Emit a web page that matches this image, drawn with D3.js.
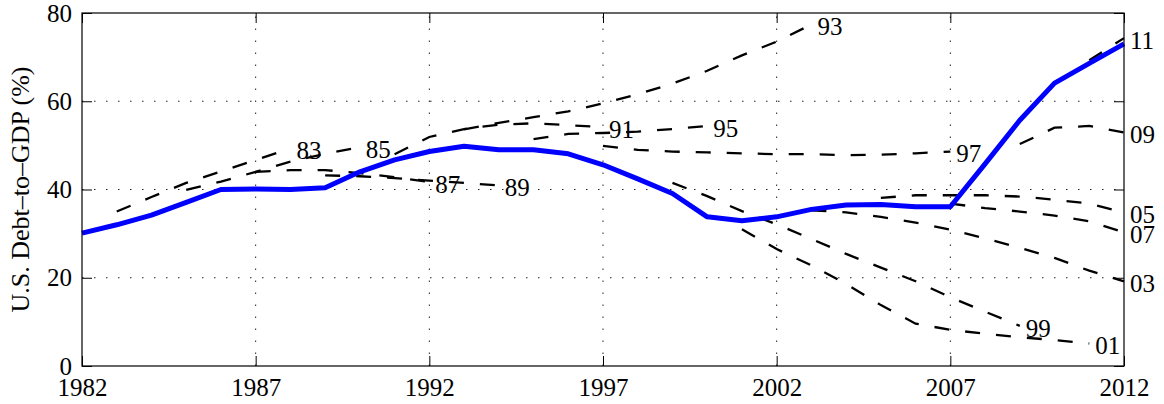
<html>
<head>
<meta charset="utf-8" />
<script src="https://d3js.org/d3.v7.min.js"></script>
<style>
  body { margin: 0; background: #fff; }
  text { font-family: "Liberation Serif", "Times New Roman", serif; }
</style>
</head>
<body>
<svg id="chart" width="1164" height="404"></svg>
<script>
// actual debt-to-GDP, 1982..2012
var actualYears = d3.range(1982, 2013);
var actual = [30.1, 32.0, 34.2, 37.1, 40.0, 40.1, 40.0, 40.4, 44.0, 46.7,
              48.6, 49.8, 49.0, 49.0, 48.1, 45.6, 42.4, 39.1, 33.8, 32.9,
              33.8, 35.5, 36.5, 36.6, 36.1, 36.1, 45.8, 55.7, 64.1, 68.6, 73.0];

// projections: label, first year, values per year
var projLabels = ["83", "85", "87", "89", "91", "93", "95", "97", "99", "01", "03", "05", "07", "09", "11"];
var projStart = [1983, 1985, 1987, 1989, 1991, 1993, 1995, 1997, 1999, 2001, 2003, 2005, 2007, 2009, 2011];
var proj83 = [35.0, 38.3, 41.5, 44.1, 46.7, 49.3];
var proj85 = [39.9, 41.8, 44.0, 46.3, 48.1, 49.6];
var proj87 = [44.0, 44.4, 44.4, 43.7, 42.8, 41.7];
var proj89 = [43.2, 43.0, 42.6, 42.0, 41.5, 40.9];
var proj91 = [48.0, 51.9, 53.7, 54.7, 55.0, 54.6, 54.1];
var proj93 = [53.6, 55.1, 56.4, 57.7, 59.5, 61.6, 64.0, 66.9, 70.4, 73.5, 77.4];
var proj95 = [51.4, 52.6, 52.8, 53.1, 53.7, 54.4];
var proj97 = [49.9, 49.0, 48.6, 48.4, 48.2, 48.0, 48.0, 47.8, 47.9, 48.2, 48.6];
var proj99 = [41.5, 38.5, 35.1, 32.1, 28.8, 25.4, 22.3, 19.2, 15.6, 12.3, 9.1];
var proj01 = [31.0, 26.5, 22.8, 18.6, 13.8, 9.6, 8.2, 7.3, 6.5, 5.9, 5.1];
var proj03 = [35.3, 34.8, 33.8, 32.5, 30.9, 28.9, 26.8, 24.5, 21.6, 19.2];
var proj05 = [38.1, 38.7, 38.7, 38.7, 38.4, 37.7, 36.8, 34.8];
var proj07 = [36.8, 35.8, 35.0, 34.1, 32.8, 30.3];
var proj09 = [50.3, 54.0, 54.4, 52.9];
var proj11 = [69.3, 74.3];
var projValues = [proj83, proj85, proj87, proj89, proj91, proj93, proj95, proj97,
                  proj99, proj01, proj03, proj05, proj07, proj09, proj11];

var xTicks = [1982, 1987, 1992, 1997, 2002, 2007, 2012];
var yTicks = [0, 20, 40, 60, 80];

var svg = d3.select("#chart"),
  margin = { top: 13, bottom: 38, left: 82, right: 40 },
  width = +svg.attr("width"),
  height = +svg.attr("height");

var x = d3.scaleLinear().domain([1982, 2012]).range([margin.left, width - margin.right]);
var y = d3.scaleLinear().domain([0, 80]).range([height - margin.bottom, margin.top]);

// dotted grid
var grid = svg.append("g").attr("stroke", "#222").attr("stroke-width", 1).attr("stroke-dasharray", "1.5 10.5");
grid.selectAll(".gx").data(xTicks.slice(1, -1)).enter().append("line")
  .attr("x1", d => x(d)).attr("x2", d => x(d))
  .attr("y1", y(0)).attr("y2", y(80));
grid.selectAll(".gy").data(yTicks.slice(1, -1)).enter().append("line")
  .attr("x1", x(1982)).attr("x2", x(2012))
  .attr("y1", d => y(d)).attr("y2", d => y(d));

var line = d3.line().x(d => x(d.year)).y(d => y(d.value));

// projections (dashed)
var projections = projLabels.map((lab, i) => ({
  label: lab,
  points: projValues[i].map((v, j) => ({ year: projStart[i] + j, value: v }))
}));

svg.append("g").selectAll("path").data(projections).enter().append("path")
  .attr("d", d => line(d.points))
  .attr("fill", "none")
  .attr("stroke", "#000")
  .attr("stroke-width", 2.3)
  .attr("stroke-dasharray", "15 16");

// actual (blue)
svg.append("path")
  .datum(actual.map((v, i) => ({ year: actualYears[i], value: v })))
  .attr("d", line)
  .attr("fill", "none")
  .attr("stroke", "#0000ff")
  .attr("stroke-width", 5)
  .attr("stroke-linejoin", "round");

// projection labels at line ends
svg.append("g").selectAll("text").data(projections).enter().append("text")
  .attr("x", d => x(d.points[d.points.length - 1].year) + 6)
  .attr("y", d => y(d.points[d.points.length - 1].value) + 2)
  .attr("dy", "0.35em")
  .attr("font-size", 25)
  .text(d => d.label);

// axes with inward ticks
function styleAxis(g) {
  g.select(".domain").remove();
  g.attr("font-size", 25).attr("font-family", null);
}
svg.append("g").attr("transform", "translate(0," + y(0) + ")")
  .call(d3.axisBottom(x).tickValues(xTicks).tickFormat(d3.format("d")).tickSize(-10).tickPadding(12))
  .call(styleAxis);
svg.append("g").attr("transform", "translate(0," + y(80) + ")")
  .call(d3.axisTop(x).tickValues(xTicks).tickFormat("").tickSize(-10))
  .call(styleAxis);
svg.append("g").attr("transform", "translate(" + x(1982) + ",0)")
  .call(d3.axisLeft(y).tickValues(yTicks).tickSize(-10).tickPadding(10))
  .call(styleAxis);
svg.append("g").attr("transform", "translate(" + x(2012) + ",0)")
  .call(d3.axisRight(y).tickValues(yTicks).tickFormat("").tickSize(-10))
  .call(styleAxis);

svg.append("rect")
  .attr("x", x(1982)).attr("y", y(80))
  .attr("width", x(2012) - x(1982)).attr("height", y(0) - y(80))
  .attr("fill", "none").attr("stroke", "#000").attr("stroke-width", 1.2);

// y axis title
svg.append("text")
  .attr("transform", "translate(29," + y(40) + ") rotate(-90)")
  .attr("text-anchor", "middle")
  .attr("font-size", 26)
  .text("U.S. Debt\u2013to\u2013GDP (%)");
</script>
</body>
</html>
